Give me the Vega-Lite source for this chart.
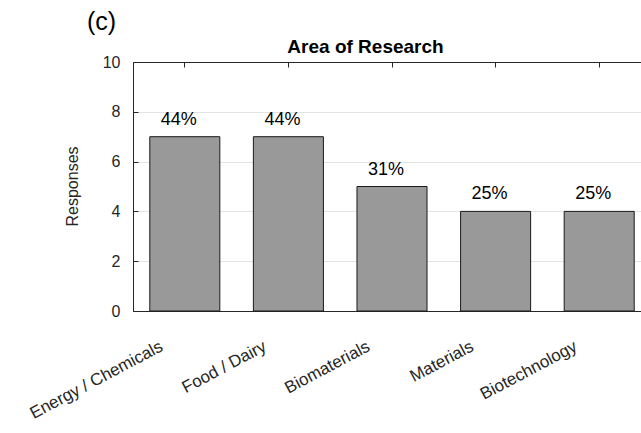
{
  "$schema": "https://vega.github.io/schema/vega-lite/v6.json",
  "autosize": {"type": "none"},
  "padding": {"left": 133, "top": 62, "right": 0, "bottom": 122},
  "width": 518,
  "height": 249,
  "title": {"text": "(c)", "anchor": "start", "dx": -46, "dy": 2, "fontSize": 25, "fontWeight": "normal", "font": "Liberation Sans", "color": "#000000", "frame": "group"},
  "config": {
    "font": "Liberation Sans",
    "view": {"stroke": "#262626", "strokeWidth": 1},
    "axis": {"domainColor": "#262626", "tickColor": "#262626", "labelColor": "#262626", "titleColor": "#262626", "labelFont": "Liberation Sans", "titleFont": "Liberation Sans"}
  },
  "data": {"values": [
    {"area": "Energy / Chemicals", "responses": 7, "pct": "44%"},
    {"area": "Food / Dairy", "responses": 7, "pct": "44%"},
    {"area": "Biomaterials", "responses": 5, "pct": "31%"},
    {"area": "Materials", "responses": 4, "pct": "25%"},
    {"area": "Biotechnology", "responses": 4, "pct": "25%"}
  ]},
  "layer": [
    {
      "mark": {"type": "bar", "fill": "#999999", "stroke": "#1a1a1a", "strokeWidth": 1},
      "encoding": {
        "x": {"field": "area", "type": "nominal", "sort": null,
          "scale": {"paddingInner": 0.324, "paddingOuter": 0.162},
          "axis": {"orient": "bottom", "title": null, "labelAngle": -28, "labelAlign": "right", "labelBaseline": "top", "labelPadding": 32, "labelOffset": -27, "labelFontSize": 17, "labelColor": "#262626", "tickSize": -5, "grid": false, "domainWidth": 1}},
        "y": {"field": "responses", "type": "quantitative",
          "scale": {"domain": [0, 10], "nice": false},
          "axis": {"title": "Responses", "titleFontSize": 16, "titleFontWeight": "normal", "titleAngle": -90, "titleX": -61, "titleY": 124, "titleBaseline": "middle", "titleAlign": "center", "values": [0, 2, 4, 6, 8, 10], "labelFontSize": 16, "labelPadding": 18, "tickSize": -5, "grid": true, "gridColor": "#e3e3e3", "gridWidth": 1}}
      }
    },
    {
      "mark": {"type": "text", "fontSize": 18, "dy": -17, "dx": -6, "baseline": "middle", "color": "#000000", "font": "Liberation Sans"},
      "encoding": {
        "x": {"field": "area", "type": "nominal", "sort": null,
          "axis": {"orient": "top", "title": "Area of Research", "titleFontSize": 19, "titleFontWeight": "bold", "titleColor": "#000000", "titleX": 232, "titleY": -10, "titleBaseline": "alphabetic", "labels": false, "tickSize": -5, "grid": false}},
        "y": {"field": "responses", "type": "quantitative"},
        "text": {"field": "pct", "type": "nominal"}
      }
    }
  ],
  "resolve": {"axis": {"x": "independent"}}
}
